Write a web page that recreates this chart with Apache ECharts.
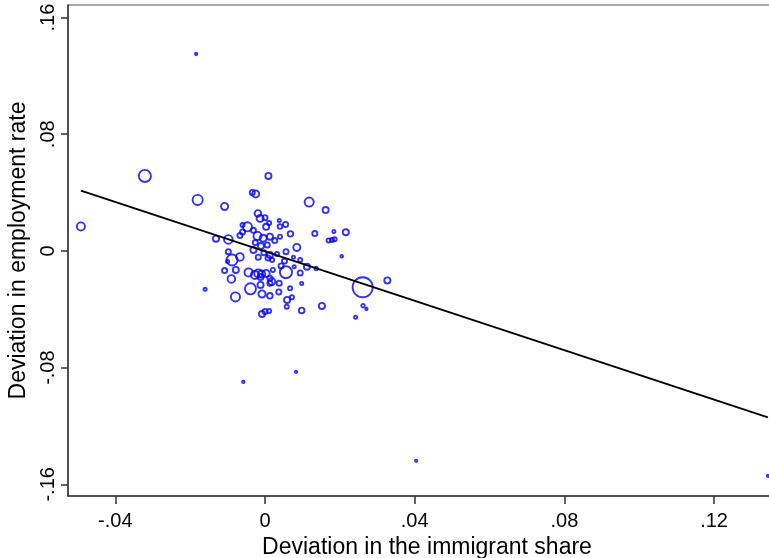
<!DOCTYPE html>
<html>
<head>
<meta charset="utf-8">
<script src="https://cdn.jsdelivr.net/npm/echarts@6/dist/echarts.min.js"></script>
<style>
html,body{margin:0;padding:0;background:#fff;overflow:hidden;}
#chart{width:769px;height:558px;}
</style>
</head>
<body>
<div id="chart"></div>
<script>
// Deviation in the immigrant share (x)
const shareDev = [
-0.0492,-0.0321,-0.0180,-0.0184,-0.0108,-0.0058,0.0083,0.0404,0.1344,-0.0160,
0.0261,0.0327,0.0118,0.0162,0.0133,0.0184,0.0216,0.0170,0.0179,0.0186,
0.0205,0.0262,0.0271,0.0242,0.0152,0.0098,0.0137,0.0098,0.0112,0.0085,
0.0068,0.0055,0.0038,0.0040,0.0009,-0.0034,-0.0025,-0.0019,-0.0013,0.0000,
-0.0060,-0.0047,0.0011,0.0003,-0.0031,-0.0060,-0.0067,-0.0131,-0.0098,-0.0020,
-0.0005,0.0013,0.0040,0.0026,-0.0026,-0.0011,0.0006,-0.0031,-0.0003,0.0013,
0.0032,0.0056,-0.0067,-0.0088,-0.0018,0.0008,0.0076,0.0094,0.0019,0.0052,
-0.0100,0.0078,-0.0108,-0.0078,-0.0018,0.0003,0.0021,0.0043,0.0056,0.0094,
-0.0090,-0.0044,-0.0027,-0.0012,0.0013,0.0018,-0.0039,-0.0012,0.0013,0.0038,
0.0067,-0.0079,-0.0008,0.0013,0.0037,0.0059,0.0072,0.0058,-0.0008,0.0000,
0.0011,-0.0098,-0.0009
];
// Deviation in employment rate (y)
const empDev = [
0.0168,0.0514,0.0350,0.1350,0.0305,-0.0898,-0.0829,-0.1439,-0.1542,-0.0263,
-0.0249,-0.0202,0.0335,0.0280,0.0119,0.0134,0.0128,0.0072,0.0075,0.0080,
-0.0036,-0.0375,-0.0398,-0.0454,-0.0377,-0.0408,-0.0121,-0.0223,-0.0108,0.0024,
0.0117,0.0182,0.0209,0.0167,0.0514,0.0401,0.0391,0.0257,0.0223,0.0228,
0.0178,0.0165,0.0192,0.0165,0.0141,0.0130,0.0106,0.0084,0.0079,0.0103,
0.0087,0.0098,0.0098,0.0071,0.0057,0.0034,0.0041,0.0007,-0.0012,-0.0027,
-0.0021,-0.0005,-0.0041,-0.0062,-0.0043,-0.0048,-0.0043,-0.0062,-0.0062,-0.0069,
-0.0073,-0.0108,-0.0134,-0.0130,-0.0154,-0.0154,-0.0130,-0.0103,-0.0146,-0.0151,
-0.0192,-0.0147,-0.0165,-0.0178,-0.0187,-0.0210,-0.0260,-0.0233,-0.0221,-0.0221,
-0.0256,-0.0315,-0.0295,-0.0308,-0.0281,-0.0336,-0.0317,-0.0382,-0.0432,-0.0415,
-0.0411,-0.0005,-0.0158
];
// Relative weight of each region
const popWeight = [
100,196,144,16,81,16,16,16,16,25,
484,64,121,64,49,25,64,36,36,36,
20,30,16,25,64,56,30,25,64,81,
56,49,25,42,64,49,81,72,81,49,
36,121,36,64,49,49,49,64,110,100,
81,64,36,49,49,64,49,64,49,64,
36,49,90,169,49,49,25,36,36,49,
25,25,49,64,100,81,36,49,196,49,
90,100,100,64,49,81,169,64,49,49,
36,121,81,56,49,64,36,36,64,49,
36,49,81
];
// Fitted regression line
const fitIntercept = -0.0003;
const fitSlope = -0.847;
// Tick labels
const xTicks = [-0.04, 0, 0.04, 0.08, 0.12];
const yTicks = [-0.16, -0.08, 0, 0.08, 0.16];

const points = shareDev.map((x, i) => [x, empDev[i], popWeight[i]]);
const xMinData = Math.min(...shareDev), xMaxData = Math.max(...shareDev);
const fitLine = [xMinData, xMaxData].map(x => [x, fitIntercept + fitSlope * x]);

function fmt(v) {
  const r = Math.round(v * 100) / 100;
  if (r === 0) return '0';
  return String(r).replace('0.', '.');
}

const FONT = '"Liberation Sans", Arial, sans-serif';
const chart = echarts.init(document.getElementById('chart'), null, {renderer: 'canvas'});
chart.setOption({
  animation: false,
  backgroundColor: '#fff',
  grid: {left: 68, top: 5, right: -17, bottom: 62, show: true, borderColor: '#555', borderWidth: 1,
         containLabel: false, outerBoundsMode: 'none'},
  xAxis: {
    type: 'value', min: -0.05265, max: 0.13923,
    name: 'Deviation in the immigrant share', nameLocation: 'middle', nameGap: 39,
    nameTextStyle: {fontFamily: FONT, fontSize: 23, color: '#000'},
    axisLine: {show: true, onZero: false, lineStyle: {color: '#333', width: 1.5}},
    axisTick: {show: true, length: 8, customValues: xTicks, lineStyle: {color: '#333', width: 1.5}},
    axisLabel: {customValues: xTicks, formatter: fmt, fontFamily: FONT, fontSize: 20, color: '#000', margin: 15},
    splitLine: {show: false}
  },
  yAxis: {
    type: 'value', min: -0.168, max: 0.1686,
    name: 'Deviation in employment rate', nameLocation: 'middle', nameGap: 38,
    nameTextStyle: {fontFamily: FONT, fontSize: 23, color: '#000'},
    axisLine: {show: true, onZero: false, lineStyle: {color: '#333', width: 1.5}},
    axisTick: {show: true, length: 7, customValues: yTicks, lineStyle: {color: '#333', width: 1.5}},
    axisLabel: {customValues: yTicks, formatter: fmt, rotate: 90, fontFamily: FONT, fontSize: 20, color: '#000', margin: 10},
    splitLine: {show: false}
  },
  series: [
    {
      type: 'scatter',
      data: points,
      symbol: 'circle',
      symbolSize: v => Math.max(2.4, Math.sqrt(v[2]) - 1.9),
      itemStyle: {color: 'rgba(0,0,0,0)', borderColor: '#0000ff', borderWidth: 1.9},
      z: 2,
      clip: false
    },
    {
      type: 'line',
      data: fitLine,
      showSymbol: false,
      symbol: 'none',
      lineStyle: {color: '#000', width: 1.9},
      z: 3
    }
  ]
});
</script>
</body>
</html>
